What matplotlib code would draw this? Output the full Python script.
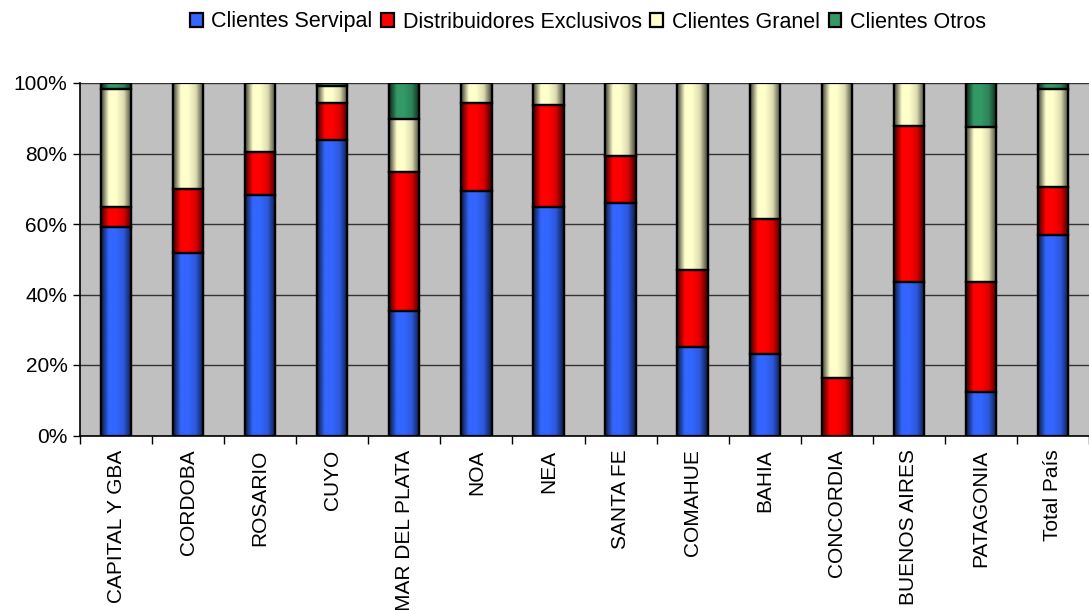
import numpy as np
import matplotlib
matplotlib.use("Agg")
import matplotlib.pyplot as plt
from matplotlib.colors import LinearSegmentedColormap, to_rgb
from matplotlib.ticker import FixedLocator, PercentFormatter

plt.rcParams['font.family'] = ['Liberation Sans', 'DejaVu Sans']

categories = ["CAPITAL Y GBA", "CORDOBA", "ROSARIO", "CUYO", "MAR DEL PLATA", "NOA", "NEA",
              "SANTA FE", "COMAHUE", "BAHIA", "CONCORDIA", "BUENOS AIRES", "PATAGONIA", "Total País"]
servipal = [59.2, 51.9, 68.2, 83.8, 35.2, 69.3, 64.9, 65.9, 25.2, 23.0, 0.0, 43.6, 12.3, 56.9]
distrib = [5.7, 18.1, 12.3, 10.6, 39.6, 25.1, 29.0, 13.4, 21.7, 38.5, 16.3, 44.1, 31.3, 13.5]
granel = [33.3, 30.0, 19.5, 4.8, 15.0, 5.6, 6.1, 20.7, 53.1, 38.5, 83.7, 12.3, 44.0, 27.8]
otros = [1.8, 0.0, 0.0, 0.8, 10.2, 0.0, 0.0, 0.0, 0.0, 0.0, 0.0, 0.0, 12.4, 1.8]
series_names = ["Clientes Servipal", "Distribuidores Exclusivos", "Clientes Granel", "Clientes Otros"]
colors = ["#3366FF", "#FF0000", "#FFFFCC", "#339966"]

fig = plt.figure(figsize=(10.89, 6.10), dpi=100)
ax = fig.add_axes([80/1089, 1 - 435.5/610, 1 - 80/1089, 352.5/610])
ax.set_facecolor("#C0C0C0")

data = np.array([servipal, distrib, granel, otros])
totals = data.sum(axis=0)
data = data / totals * 100
x = np.arange(len(categories))
width = 0.42
bottom = np.zeros(len(categories))
for vals, name, col in zip(data, series_names, colors):
    bars = ax.bar(x, vals, width, bottom=bottom, color=col, edgecolor="black",
                  linewidth=1.6, label=name, zorder=3)
    rgb = np.array(to_rgb(col))
    dark = rgb * 0.25
    cmap = LinearSegmentedColormap.from_list("g", [dark, rgb, rgb, rgb * 0.85, dark])
    grad = np.linspace(0, 1, 64).reshape(1, -1)
    for b in bars:
        h = b.get_height()
        if h <= 0:
            continue
        x0 = b.get_x()
        im = ax.imshow(grad, extent=[x0, x0 + b.get_width(), b.get_y(), b.get_y() + h],
                       cmap=cmap, aspect="auto", zorder=3.5, interpolation="bilinear")
        im.set_clip_path(b)
        ax.add_patch(plt.Rectangle((x0, b.get_y()), b.get_width(), h, fill=False,
                                   edgecolor="black", linewidth=1.6, zorder=4))
    bottom += vals

ax.set_xlim(-0.5, len(categories) - 0.5)
ax.set_ylim(0, 100)
ax.yaxis.set_major_locator(FixedLocator([0, 20, 40, 60, 80, 100]))
ax.yaxis.set_major_formatter(PercentFormatter(decimals=0))
ax.grid(axis="y", color="#333333", linewidth=1.0, zorder=1)
ax.set_axisbelow(True)
ax.set_xticks(x)
ax.set_xticklabels(categories, rotation=90, fontsize=15)
ax.tick_params(axis="x", length=0, pad=10)
ax.set_xticks(np.arange(len(categories) + 1) - 0.5, minor=True)
ax.tick_params(axis="x", which="minor", length=6, width=1, color="black")
ax.tick_params(axis="y", labelsize=15, length=5, width=1, color="black", pad=4)
for s in ["top", "right"]:
    ax.spines[s].set_visible(False)
ax.spines["left"].set_linewidth(1.2)
ax.spines["bottom"].set_linewidth(1.2)

handles, labels = ax.get_legend_handles_labels()
fig.legend(handles, labels, loc="center", bbox_to_anchor=(588/1089, 1 - 22/610), ncol=4,
           frameon=False, fontsize=15.5, handlelength=0.6, handleheight=0.6,
           handletextpad=0.4, columnspacing=0.4, borderpad=0)

fig.savefig("out.png", dpi=100)
